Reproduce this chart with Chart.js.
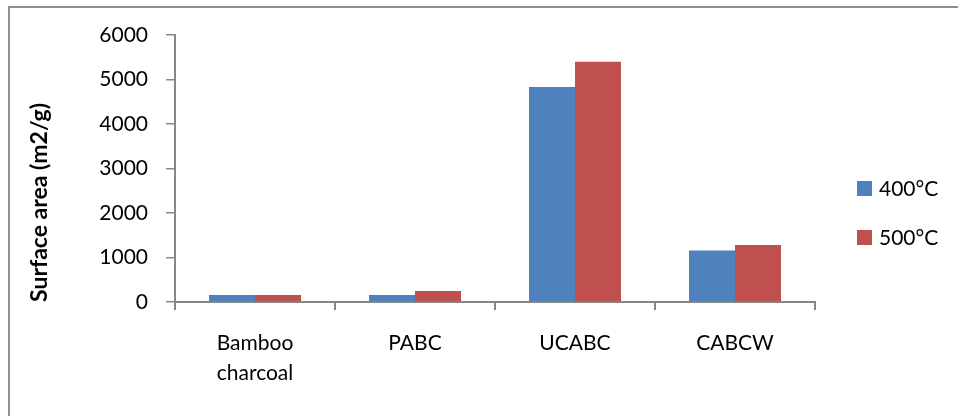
<!DOCTYPE html>
<html lang="en">
<head>
  <meta charset="UTF-8">
  <title>Surface area</title>
  <style>
    * { margin: 0; padding: 0; box-sizing: border-box; }
    body { background: #fff; width: 958px; height: 416px; overflow: hidden; position: relative; }
    .frame {
      position: absolute; left: 8px; top: 6px; width: 980px; height: 440px;
      border: 2px solid #8e8e8e;
    }
    canvas { position: absolute; left: 0; top: 0; }
  </style>
</head>
<body>
  <div class="frame"></div>
  <canvas id="chart" width="958" height="416"></canvas>

  <script src="https://cdn.jsdelivr.net/npm/chart.js"></script>
  <script>
    const categories = [['Bamboo', 'charcoal'], 'PABC', 'UCABC', 'CABCW'];
    const temp400 = [155, 160, 4830, 1160];
    const temp500 = [155, 245, 5400, 1280];
    const seriesNames = ['400°C', '500°C'];
    const yTicks = [0, 1000, 2000, 3000, 4000, 5000, 6000];

    const blue = '#4F81BD';
    const red = '#C0504D';
    const axisColor = '#868686';
    const font = 'Lato, "Liberation Sans", sans-serif';

    // simple legend on the right, like the Excel one
    const sideLegend = {
      id: 'sideLegend',
      afterDraw(chart) {
        const ctx = chart.ctx;
        const x = chart.chartArea.right + 42;
        const yMid = 213;
        ctx.save();
        ctx.font = '21px ' + font;
        ctx.textBaseline = 'middle';
        chart.data.datasets.forEach((ds, i) => {
          const y = yMid + (i - 0.5) * 49;
          ctx.fillStyle = ds.backgroundColor;
          ctx.fillRect(x, y - 7.5, 15, 15);
          ctx.fillStyle = '#000';
          ctx.fillText(ds.label, x + 22, y + 1);
        });
        ctx.restore();
      }
    };

    new Chart(document.getElementById('chart'), {
      type: 'bar',
      data: {
        labels: categories,
        datasets: [
          { label: seriesNames[0], data: temp400, backgroundColor: blue },
          { label: seriesNames[1], data: temp500, backgroundColor: red }
        ]
      },
      options: {
        responsive: false,
        animation: false,
        events: [],
        categoryPercentage: 0.575,
        barPercentage: 1.0,
        layout: { padding: { top: 35, right: 143, bottom: 0, left: 0 } },
        plugins: {
          legend: { display: false },
          tooltip: { enabled: false }
        },
        scales: {
          x: {
            grid: {
              display: true, drawOnChartArea: false, offset: true,
              color: axisColor, lineWidth: 2, tickLength: 8
            },
            border: { color: axisColor, width: 2 },
            ticks: {
              color: '#000', font: { family: font, size: 21, lineHeight: 1.43 },
              padding: 18, maxRotation: 0, autoSkip: false
            },
            afterFit(scale) { scale.height = 114; }
          },
          y: {
            min: 0, max: 6000,
            afterBuildTicks(scale) { scale.ticks = yTicks.map(v => ({ value: v })); },
            grid: {
              display: true, drawOnChartArea: false,
              color: axisColor, lineWidth: 1.5, tickLength: 9
            },
            border: { color: axisColor, width: 2 },
            ticks: {
              color: '#000', font: { family: font, size: 21 }, padding: 18,
              callback: v => String(v)
            },
            title: {
              display: true, text: 'Surface area (m2/g)', color: '#000',
              align: 'start',
              font: { family: font, size: 23, weight: 'bold' },
              padding: { top: 26, bottom: 0 }
            },
            afterFit(scale) { scale.width = 175; }
          }
        }
      },
      plugins: [sideLegend]
    });
  </script>
</body>
</html>
